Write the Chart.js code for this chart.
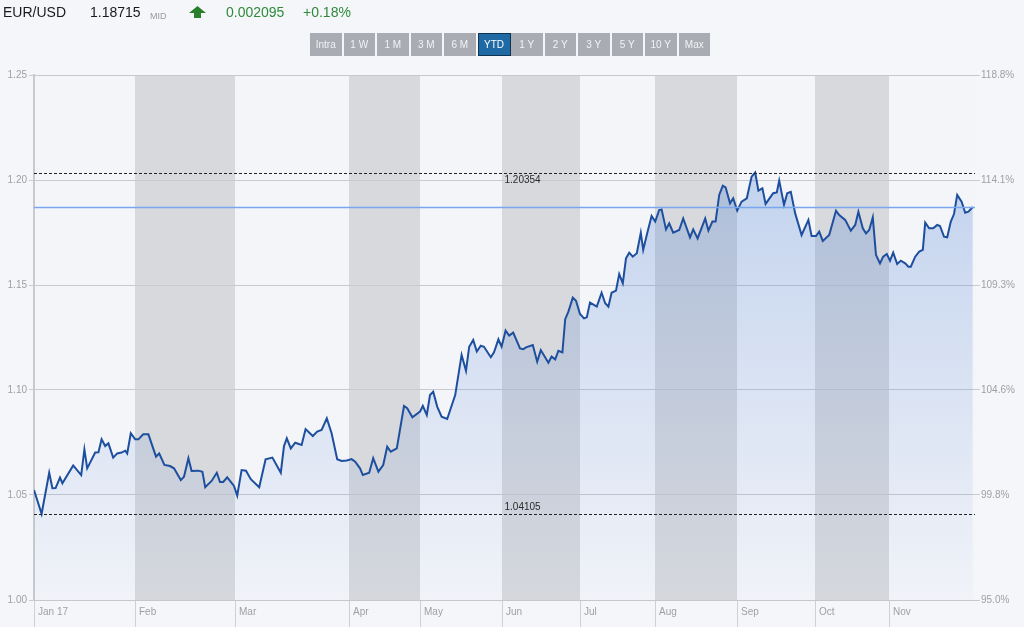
<!DOCTYPE html>
<html>
<head>
<meta charset="utf-8">
<script src="https://cdn.jsdelivr.net/npm/chart.js@4.4.1/dist/chart.umd.min.js"></script>
<style>
  html, body { margin:0; padding:0; background:#f5f6fa; width:1024px; height:627px; overflow:hidden; font-family:"Liberation Sans", Arial, sans-serif; }
  #c { position:absolute; left:0; top:0; }
  .hdr { position:absolute; top:4px; font-size:14px; line-height:17px; white-space:nowrap; }
  .btn { position:absolute; top:33px; height:23px; width:31px; background:#a9acb2; color:#f2f3f5; font-size:10px; line-height:23px; text-align:center; box-sizing:border-box; }
  .btn.on { background:#1f6aa5; border:1px solid #0e3452; line-height:21px; color:#fff; }
</style>
</head>
<body>
<canvas id="c" width="1024" height="627"></canvas>
<div class="hdr" style="left:3px;color:#1a1a1a">EUR/USD</div>
<div class="hdr" style="left:90px;color:#1a1a1a">1.18715</div>
<div class="hdr" style="left:150px;top:8px;font-size:9px;color:#9a9a9a">MID</div>
<svg style="position:absolute;left:189px;top:6px" width="17" height="12" viewBox="0 0 17 12"><polygon points="8.5,0 17,7 12,7 12,12 5,12 5,7 0,7" fill="#2a7f2a"/></svg>
<div class="hdr" style="left:226px;color:#2e8b3a">0.002095</div>
<div class="hdr" style="left:303px;color:#2e8b3a">+0.18%</div>
<div id="btns"></div>
<script>
// ---- data ----
const rangeButtons = ['Intra','1 W','1 M','3 M','6 M','YTD','1 Y','2 Y','3 Y','5 Y','10 Y','Max'];
const activeButton = 'YTD';

const monthLabels = ['Jan 17','Feb','Mar','Apr','May','Jun','Jul','Aug','Sep','Oct','Nov'];
const monthStarts = [0, 25.25, 50.25, 78.75, 96.5, 117, 136.5, 155.25, 175.75, 195.25, 213.75];
const sessionMax = 235.25;

const sessions = [
  0,1.9,3.8,4.6,5.4,6.5,7.1,9.8,11.8,12.6,13.3,15.3,16.1,16.9,17.8,18.6,19.8,20.8,21.9,22.8,23.3,24.2,
  25.3,26.1,27.3,28.6,30.5,31.3,32.6,34,35,36.7,37.5,38.6,39.4,41.1,42.1,42.8,44.4,45.7,46.5,47.3,48.3,
  50,50.8,51.9,53,54.2,56.3,57.9,59.6,61.7,62.5,63.2,64.2,65.3,66.9,67.9,69.7,70.8,71.9,73.2,74.4,75.8,76.9,78.2,
  79.4,80.3,81.5,82.2,83.8,84.8,86.1,87.3,88.3,89.2,90.7,92.5,93.3,94.6,
  96.5,97.2,98.2,99,99.8,100.8,101.9,103.3,105.3,106.9,108,108.8,109.8,110.7,111.7,112.5,114.2,115,116.1,
  116.9,117.9,118.8,119.8,121.5,122.3,123,124.7,125.8,126.7,128.6,129.4,130.3,131.1,132.1,132.8,133.6,134.7,135.5,
  136.5,137.5,138.2,139,140.7,141.9,142.8,143.6,144.4,145.5,146.3,147.2,148,148.8,149.7,150.7,151.7,152.3,153.3,154.4,
  155.3,156.3,156.9,158,158.8,159.8,161.3,162.3,164,164.8,165.9,167.8,168.6,169.6,170.4,171.3,172.2,172.9,174,174.8,
  175.8,176.9,178.2,179.4,180.3,181.1,182.1,182.9,184.8,185.7,186.3,187.5,188.3,189.2,190.3,191.9,193.6,194.4,
  195.5,196.3,197.2,198.8,200.5,201.3,202.8,204.2,205.3,206.1,207.2,208,208.8,209.7,210.5,211.5,212.3,213.2,
  214,214.8,215.8,216.7,217.8,218.6,219.2,220.3,221.3,222.2,222.8,223.8,224.8,225.8,226.5,227.5,228.3,229.2,230,230.8,231.9,232.8,233.6,234.7
];
const rates = [
  1.0524,1.04105,1.0606,1.0532,1.0533,1.0583,1.0556,1.0641,1.0595,1.0717,1.0627,1.0702,1.0703,1.0765,1.0733,1.0746,1.0678,1.0698,1.0702,1.0711,1.0698,1.0794,
  1.0765,1.0765,1.0789,1.0789,1.0683,1.0698,1.0643,1.0638,1.0627,1.0571,1.0587,1.0675,1.0614,1.0616,1.0611,1.0537,1.0567,1.0606,1.0562,1.0562,1.0584,
  1.0543,1.0497,1.0619,1.0616,1.0575,1.0537,1.0670,1.0678,1.0606,1.0733,1.0770,1.0722,1.0749,1.0738,1.0814,1.0781,1.0802,1.0810,1.0865,1.0794,1.0670,1.0662,1.0664,
  1.0671,1.0659,1.0627,1.0595,1.0606,1.0675,1.0611,1.0643,1.0730,1.0706,1.0722,1.0924,1.0913,1.0870,
  1.0897,1.0924,1.0881,1.0976,1.0992,1.0921,1.0873,1.0862,1.0976,1.1167,1.1092,1.1206,1.1238,1.1183,1.1211,1.1206,1.1156,1.1179,1.1241,
  1.1206,1.1283,1.1259,1.1273,1.1198,1.1194,1.1203,1.1214,1.1135,1.1190,1.1130,1.1159,1.1146,1.1187,1.1179,1.1337,1.1373,1.1440,1.1425,
  1.1362,1.1341,1.1346,1.1416,1.1397,1.1463,1.1413,1.1397,1.1463,1.1473,1.1552,1.1508,1.1627,1.1654,1.1635,1.1651,1.1749,1.1667,1.1746,1.1829,
  1.1802,1.1857,1.1860,1.1765,1.1794,1.1749,1.1762,1.1817,1.1727,1.1765,1.1722,1.1817,1.1759,1.1802,1.1802,1.1929,1.1973,1.1965,1.1889,1.1913,
  1.1854,1.1897,1.1913,1.2016,1.20354,1.1949,1.1960,1.1886,1.1937,1.1941,1.1997,1.1881,1.1937,1.1944,1.1841,1.1738,1.1810,1.1733,
  1.1733,1.1754,1.1710,1.1738,1.1854,1.1833,1.1810,1.1759,1.1786,1.1849,1.1770,1.1746,1.1762,1.1822,1.1643,1.1603,1.1635,1.1648,
  1.1616,1.1654,1.1600,1.1616,1.1603,1.1587,1.1587,1.1635,1.1659,1.1667,1.1797,1.1770,1.1770,1.1786,1.1781,1.1730,1.1727,1.1802,1.1838,1.1929,1.1897,1.1844,1.1849,1.18715
];

const leftTicks = [1.00, 1.05, 1.10, 1.15, 1.20, 1.25];
const leftTickLabels = ['1.00','1.05','1.10','1.15','1.20','1.25'];
const rightTickLabels = ['95.0%','99.8%','104.6%','109.3%','114.1%','118.8%'];
const lastValue = 1.18715;
const periodHigh = 1.20354;
const periodLow = 1.04105;

// ---- buttons ----
const btnWrap = document.getElementById('btns');
rangeButtons.forEach((t, i) => {
  const d = document.createElement('div');
  d.className = 'btn' + (t === activeButton ? ' on' : '');
  d.style.left = (310 + i * 33.5) + 'px';
  d.style.width = (t === activeButton ? 33 : 31.5) + 'px';
  d.textContent = t;
  btnWrap.appendChild(d);
});

// ---- chart ----
Chart.defaults.font.family = '"Liberation Sans", Arial, sans-serif';

const bandPlugin = {
  id: 'bands',
  beforeDraw(chart) {
    const { ctx, chartArea: a, scales: { x } } = chart;
    ctx.save();
    ctx.fillStyle = '#f4f5f9';
    ctx.fillRect(a.left, a.top, a.right - a.left, a.bottom - a.top);
    ctx.fillStyle = '#d8d9dd';
    for (let i = 1; i < monthStarts.length; i += 2) {
      const x0 = x.getPixelForValue(monthStarts[i]);
      const x1 = i + 1 < monthStarts.length ? x.getPixelForValue(monthStarts[i + 1]) : a.right;
      ctx.fillRect(x0, a.top, x1 - x0, a.bottom - a.top);
    }
    ctx.restore();
  }
};

const levelPlugin = {
  id: 'levels',
  afterDatasetsDraw(chart) {
    const { ctx, chartArea: a, scales: { y } } = chart;
    ctx.save();
    const yl = Math.round(y.getPixelForValue(lastValue)) + 0.5;
    ctx.strokeStyle = '#7aa6ee';
    ctx.lineWidth = 1.3;
    ctx.beginPath(); ctx.moveTo(a.left, yl); ctx.lineTo(a.right, yl); ctx.stroke();
    ctx.lineWidth = 1;
    ctx.strokeStyle = '#222';
    ctx.setLineDash([3, 2]);
    const yh = Math.round(y.getPixelForValue(periodHigh)) + 0.5;
    const ylo = Math.round(y.getPixelForValue(periodLow)) + 0.5;
    ctx.beginPath(); ctx.moveTo(a.left, yh); ctx.lineTo(a.right, yh); ctx.stroke();
    ctx.beginPath(); ctx.moveTo(a.left, ylo); ctx.lineTo(a.right, ylo); ctx.stroke();
    ctx.setLineDash([]);
    ctx.fillStyle = '#2a2a2a';
    ctx.font = '10px "Liberation Sans", Arial, sans-serif';
    const cx = (a.left + a.right) / 2;
    ctx.textAlign = 'left';
    ctx.textBaseline = 'alphabetic';
    ctx.fillText(periodHigh.toFixed(5), cx, yh + 9.5);
    ctx.fillText(periodLow.toFixed(5), cx, ylo - 4.5);
    ctx.restore();
  }
};

new Chart(document.getElementById('c'), {
  type: 'line',
  data: {
    datasets: [{
      data: sessions.map((s, i) => ({ x: s, y: rates[i] })),
      borderColor: '#1d4f9e',
      borderWidth: 2,
      pointRadius: 0,
      tension: 0,
      fill: 'start',
      backgroundColor(ctx) {
        const a = ctx.chart.chartArea;
        if (!a) return 'rgba(70,120,200,0.2)';
        const g = ctx.chart.ctx.createLinearGradient(0, a.top, 0, a.bottom);
        g.addColorStop(0, 'rgba(70,125,210,0.34)');
        g.addColorStop(1, 'rgba(70,125,210,0.02)');
        return g;
      }
    }]
  },
  options: {
    responsive: false,
    animation: false,
    layout: { padding: { top: 75, left: 0, right: 0, bottom: 0 } },
    plugins: { legend: { display: false }, tooltip: { enabled: false } },
    scales: {
      x: {
        type: 'linear',
        min: 0, max: sessionMax,
        afterBuildTicks(s) { s.ticks = monthStarts.map(v => ({ value: v })); },
        afterFit(s) { s.height = 27; },
        grid: { drawOnChartArea: false, tickLength: 27, color: '#cfd0d4', lineWidth: 1 },
        border: { display: true, color: '#c6c7cb' },
        ticks: {
          autoSkip: false, maxRotation: 0, align: 'start', labelOffset: 4, padding: -21,
          color: '#a0a0a0', font: { size: 10 },
          callback(v) { const i = monthStarts.indexOf(v); return i >= 0 ? monthLabels[i] : ''; }
        }
      },
      y: {
        position: 'left',
        min: 1.00, max: 1.25,
        afterBuildTicks(s) { s.ticks = leftTicks.map(v => ({ value: v })); },
        afterFit(s) { s.width = 34; },
        grid: { color: '#c9cace', tickLength: 5, lineWidth: 1 },
        border: { display: true, color: '#c9cace', width: 2 },
        ticks: {
          color: '#a0a0a0', font: { size: 10 }, padding: 2,
          callback(v) { const i = leftTicks.indexOf(v); return i >= 0 ? leftTickLabels[i] : ''; }
        }
      },
      y2: {
        position: 'right',
        min: 1.00, max: 1.25,
        afterBuildTicks(s) { s.ticks = leftTicks.map(v => ({ value: v })); },
        afterFit(s) { s.width = 49; },
        grid: { drawOnChartArea: false, color: '#c9cace', tickLength: 5 },
        border: { display: false },
        ticks: {
          color: '#a0a0a0', font: { size: 10 }, padding: 1,
          callback(v) { const i = leftTicks.indexOf(v); return i >= 0 ? rightTickLabels[i] : ''; }
        }
      }
    }
  },
  plugins: [bandPlugin, levelPlugin]
});
</script>
</body>
</html>
